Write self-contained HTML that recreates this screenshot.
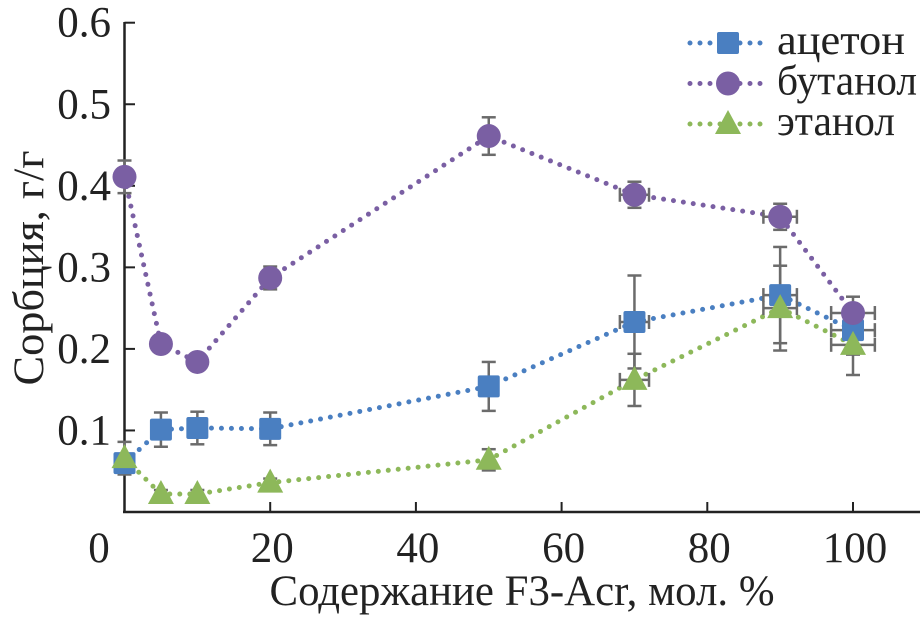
<!DOCTYPE html>
<html><head><meta charset="utf-8"><style>
body{margin:0;background:#fff}
svg text{font-family:"Liberation Serif","Times New Roman",serif;fill:#222}
</style></head><body>
<svg width="923" height="617" id="c">
</svg>
<script>
const xs=[0,5,10,20,50,70,90,100];
const acetone=[0.06,0.101,0.103,0.102,0.154,0.233,0.266,0.223];
const acetoneErr=[0.01,0.021,0.02,0.02,0.03,0.057,0.059,0.03];
const butanol=[0.411,0.206,0.184,0.287,0.461,0.389,0.362,0.244];
const butanolErr=[0.02,0.01,0.01,0.014,0.023,0.016,0.016,0.02];
const ethanol=[0.066,0.022,0.022,0.036,0.064,0.162,0.25,0.205];
const ethanolErr=[0.02,0.005,0.005,0.005,0.013,0.032,0.052,0.037];
const xErr=[0,0,0,0,0,2,2.3,3];
const xTicks=[0,20,40,60,80,100];
const yTicks=[0.1,0.2,0.3,0.4,0.5,0.6];
const X=v=>124.5+v*7.285, Y=v=>512-v*815.5;
const svg=document.getElementById('c'),NS='http://www.w3.org/2000/svg';
function el(t,a,p){const e=document.createElementNS(NS,t);for(const k in a)e.setAttribute(k,a[k]);(p||svg).appendChild(e);return e;}
let e;
e=el('line',{x1:124.5,y1:22,x2:124.5,y2:513,stroke:'#222','stroke-width':2.5});

e=el('line',{x1:123,y1:512,x2:920,y2:512,stroke:'#222','stroke-width':2.5});

xTicks.forEach(v=>{
 if(v>0)el('line',{x1:X(v),y1:512,x2:X(v),y2:502,stroke:'#222','stroke-width':2});
 e=el('text',{x:v===0?99:X(v)+2,y:562,'font-size':43,'text-anchor':'middle'});e.textContent=v;
 
});
yTicks.forEach(v=>{
 el('line',{x1:124.5,y1:Y(v),x2:135,y2:Y(v),stroke:'#222','stroke-width':2});
 e=el('text',{x:111,y:Y(v)+14,'font-size':43,'text-anchor':'end'});e.textContent=v.toFixed(1);
 
});
e=el('text',{x:522,y:605,'font-size':43,'text-anchor':'middle',textLength:505,lengthAdjust:'spacingAndGlyphs'});e.textContent='Содержание F3-Acr, мол. %';

e=el('text',{x:0,y:0,'font-size':43,'text-anchor':'middle',textLength:235,lengthAdjust:'spacingAndGlyphs',transform:'translate(43,268) rotate(-90)'});e.textContent='Сорбция, г/г';

const series=[
 {name:'acetone',vals:acetone,err:acetoneErr,col:'#4a7fc1',m:'sq'},
 {name:'butanol',vals:butanol,err:butanolErr,col:'#7a5fa3',m:'ci'},
 {name:'ethanol',vals:ethanol,err:ethanolErr,col:'#8db85a',m:'tr'}];
function marker(m,cx,cy,col){
 if(m==='sq')return el('rect',{x:cx-11,y:cy-11,width:22,height:22,fill:col,rx:2});
 if(m==='ci')return el('circle',{cx:cx,cy:cy,r:12,fill:col});
 return el('polygon',{points:`${cx},${cy-14} ${cx-13},${cy+10} ${cx+13},${cy+10}`,fill:col});
}
series.forEach(s=>{
 const pts=xs.map((x,i)=>X(x)+','+Y(s.vals[i])).join(' ');
 e=el('polyline',{points:pts,fill:'none',stroke:s.col,'stroke-width':5,'stroke-dasharray':'0 10','stroke-linecap':'round'});
 
});
series.forEach(s=>{
 xs.forEach((x,i)=>{
  const cx=X(x),cy=Y(s.vals[i]),y1=Y(s.vals[i]+s.err[i]),y2=Y(s.vals[i]-s.err[i]);
  const g=el('g',{stroke:'#6b6b6b','stroke-width':2.5});
  
  el('line',{x1:cx,y1:y1,x2:cx,y2:y2},g);
  el('line',{x1:cx-7,y1:y1,x2:cx+7,y2:y1},g);
  el('line',{x1:cx-7,y1:y2,x2:cx+7,y2:y2},g);
  if(xErr[i]>0){const a=X(x-xErr[i]),b=X(x+xErr[i]);
   el('line',{x1:a,y1:cy,x2:b,y2:cy},g);
   el('line',{x1:a,y1:cy-7,x2:a,y2:cy+7},g);
   el('line',{x1:b,y1:cy-7,x2:b,y2:cy+7},g);}
 });
});
series.forEach(s=>{
 xs.forEach((x,i)=>{
  e=marker(s.m,X(x),Y(s.vals[i]),s.col);
  
 });
});
const labels=['ацетон','бутанол','этанол'];
const lw=[128,140,118];
series.forEach((s,i)=>{
 const y=43+i*40.5;
 e=el('line',{x1:690,y1:y,x2:765,y2:y,stroke:s.col,'stroke-width':5,'stroke-dasharray':'0 10','stroke-linecap':'round'});
 
 e=marker(s.m,728,y,s.col);
 
 e=el('text',{x:777,y:y+11,'font-size':42,textLength:lw[i],lengthAdjust:'spacingAndGlyphs'});e.textContent=labels[i];
 
});
</script>
</body></html>
